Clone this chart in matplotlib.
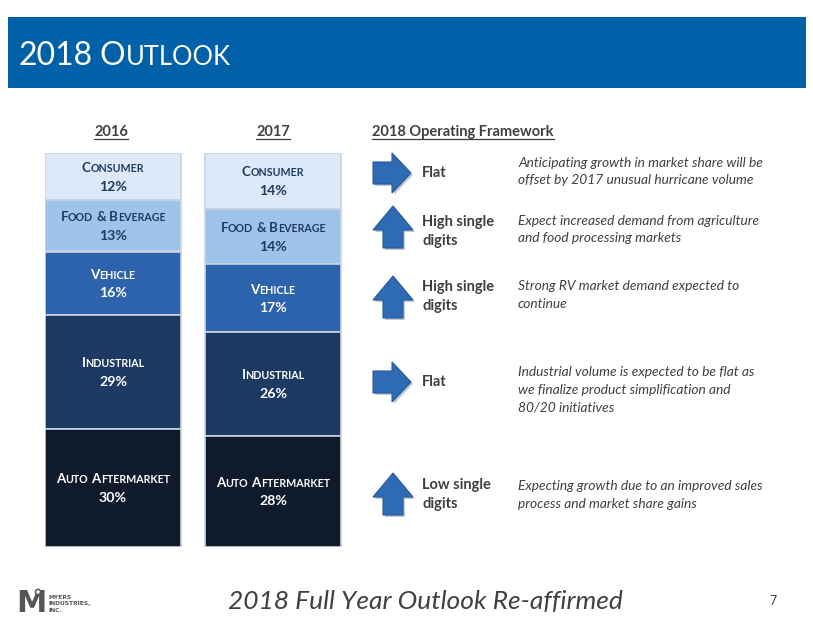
import matplotlib
matplotlib.use('Agg')
import matplotlib.pyplot as plt
from matplotlib.patches import Polygon, Rectangle, Circle
import numpy as np

plt.rcParams['font.family'] = ['Lato', 'DejaVu Sans']

# data
years = ['2016', '2017']
segments = ['Consumer', 'Food & Beverage', 'Vehicle', 'Industrial', 'Auto Aftermarket']
share_2016 = [12, 13, 16, 29, 30]
share_2017 = [14, 14, 17, 26, 28]
seg_colors = ['#dde9f8', '#9ec4ec', '#2d63ac', '#1d3b62', '#0f1b2b']
seg_text_colors = ['#1f3a60', '#1f3a60', 'white', 'white', 'white']

trend = ['right', 'up', 'up', 'right', 'up']
trend_labels = ['Flat', 'High single\ndigits', 'High single\ndigits', 'Flat', 'Low single\ndigits']
trend_notes = [
    'Anticipating growth in market share will be\noffset by 2017 unusual hurricane volume',
    'Expect increased demand from agriculture\nand food processing markets',
    'Strong RV market demand expected to\ncontinue',
    'Industrial volume is expected to be flat as\nwe finalize product simplification and\n80/20 initiatives',
    'Expecting growth due to an improved sales\nprocess and market share gains',
]

# layout (pixel rows on the slide)
arrow_y = [173, 227, 297, 382, 494]
label_y = [173, 222, 287, 382, 485]
note_y = [163, 221, 286, 372, 486]

W, H = 813, 622
fig = plt.figure(figsize=(W / 100, H / 100), dpi=100)
fig.patch.set_facecolor('white')

# stacked bars
ax_bar = fig.add_axes([45 / W, 1 - 547 / H, 297 / W, 394 / H])
ax_bar.set_xlim(-0.425, 1.431)
ax_bar.set_ylim(100, 0)
ax_bar.axis('off')

bar_vals = []
for j, shares in enumerate([share_2016, share_2017]):
    vals = np.array(shares) / sum(shares) * 100
    bottoms = np.concatenate([[0], np.cumsum(vals)[:-1]])
    ax_bar.bar(j, vals, bottom=bottoms, width=0.85, color=seg_colors,
               edgecolor='#c9d4e2', linewidth=1.2)
    bar_vals.append((vals, bottoms, shares))

# overlay in pixel coords
ax = fig.add_axes([0, 0, 1, 1], zorder=5)
ax.set_xlim(0, W)
ax.set_ylim(H, 0)
ax.axis('off')
ax.patch.set_visible(False)

renderer = fig.canvas.get_renderer()


def small_caps(x, y, text, size, color, ratio=0.78, weight='bold', ha='center'):
    pieces = []
    for i, w in enumerate(text.split(' ')):
        if i > 0:
            pieces.append((' ', None))
        if w[0].isalpha():
            pieces.append((w[0].upper(), size))
            if len(w) > 1:
                pieces.append((w[1:].upper(), size * ratio))
        else:
            pieces.append((w, size))
    space = size * 0.24 * 100 / 72
    arts = []
    total = 0
    for s, fs in pieces:
        if fs is None:
            arts.append((None, space))
            total += space
            continue
        t = ax.text(0, y, s, fontsize=fs, color=color, fontweight=weight,
                    ha='left', va='baseline')
        w = t.get_window_extent(renderer).width
        arts.append((t, w))
        total += w
    x0 = x - total / 2 if ha == 'center' else x
    for t, w in arts:
        if t is not None:
            t.set_x(x0)
        x0 += w
    return total


# header band
ax.add_patch(Rectangle((8, 17), 798, 71, facecolor='#0061a8', edgecolor='none'))
small_caps(18, 65, '2018 Outlook', 23, 'white', ratio=0.8, weight='normal', ha='left')


def underlined(x, y, s, ha='center'):
    t = ax.text(x, y, s, fontsize=10.5, fontweight='bold', color='#3f3f3f',
                ha=ha, va='baseline')
    bb = t.get_window_extent(renderer)
    x0 = x - bb.width / 2 if ha == 'center' else x
    ax.plot([x0, x0 + bb.width], [y + 2.5, y + 2.5], color='#3f3f3f', lw=0.9)


underlined(111, 136, years[0])
underlined(273, 136, years[1])
underlined(372, 136, '2018 Operating Framework', ha='left')

# segment labels
inv = ax.transData.inverted()
for j, (vals, bottoms, shares) in enumerate(bar_vals):
    for k in range(len(segments)):
        mid = bottoms[k] + vals[k] / 2
        px, py = inv.transform(ax_bar.transData.transform((j, mid)))
        small_caps(px, py - 4.5, segments[k], 9.6, seg_text_colors[k], ratio=0.8)
        ax.text(px, py + 14, f'{shares[k]}%', fontsize=10.2, fontweight='bold',
                color=seg_text_colors[k], ha='center', va='baseline')

# arrows
arrow_fc = '#2e6bb4'
arrow_ec = '#265a9b'
for d, cy in zip(trend, arrow_y):
    if d == 'right':
        pts = [(373, cy - 11), (392, cy - 11), (392, cy - 20), (411, cy),
               (392, cy + 20), (392, cy + 11), (373, cy + 11)]
    else:
        pts = [(383, cy + 21), (383, cy + 3), (373, cy + 3), (393, cy - 21),
               (413, cy + 3), (403, cy + 3), (403, cy + 21)]
    shadow = [(px + 2, py + 2) for px, py in pts]
    ax.add_patch(Polygon(shadow, closed=True, facecolor='#9aa4b0', edgecolor='none', alpha=0.6))
    ax.add_patch(Polygon(pts, closed=True, facecolor=arrow_fc, edgecolor=arrow_ec, lw=0.8))

for lab, ly in zip(trend_labels, label_y):
    for i, line in enumerate(lab.split('\n')):
        ax.text(422, ly + i * 19, line, fontsize=10.5, fontweight='bold',
                color='#3f3f3f', ha='left', va='center')

for note, ny in zip(trend_notes, note_y):
    for i, line in enumerate(note.split('\n')):
        ax.text(518, ny + i * 17.5, line, fontsize=9.9, style='italic',
                color='#404040', ha='left', va='center')

# footer logo
ax.text(16, 612, 'M', fontsize=22, fontweight='bold', color='#555555',
        ha='left', va='baseline', family='DejaVu Sans')
ax.add_patch(Circle((38, 592), 2.6, facecolor='white', edgecolor='#555555', lw=1.1, zorder=6))
for i, s in enumerate(['MYERS', 'INDUSTRIES,', 'INC.']):
    ax.text(48, 599 + i * 6.3, s, fontsize=4.3, fontweight='bold', color='#555555',
            ha='left', va='baseline', family='DejaVu Sans')
ax.text(425, 601, '2018 Full Year Outlook Re-affirmed', fontsize=19, style='italic',
        color='#404040', ha='center', va='center')
ax.text(773, 601, '7', fontsize=9, color='#404040', ha='center', va='center')

fig.savefig('out.png', dpi=100)
